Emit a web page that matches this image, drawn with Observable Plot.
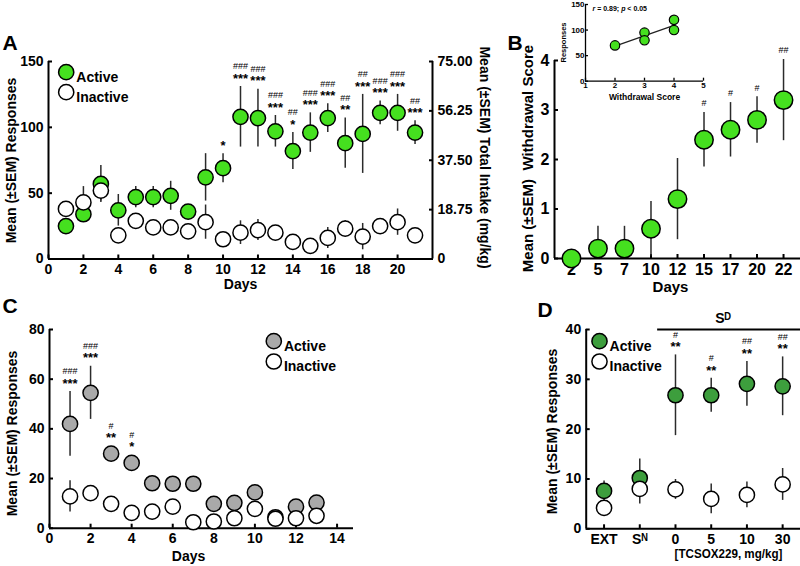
<!DOCTYPE html>
<html><head><meta charset="utf-8">
<script src="https://cdn.jsdelivr.net/npm/d3@7"></script>
<script src="https://cdn.jsdelivr.net/npm/@observablehq/plot@0.6"></script>
<style>
html,body{margin:0;padding:0;background:#fff;}
#fig{position:relative;width:800px;height:566px;overflow:hidden;background:#fff;}
#fig svg{position:absolute;left:0;top:0;}
</style></head><body><div id="fig"></div>
<script>
// ---------- Panel A: self-administration (days 1-21) ----------
const daysA = [1,2,3,4,5,6,7,8,9,10,11,12,13,14,15,16,17,18,19,20,21];
const activeA = [25,34,57,37,47,47,48,36,62,69,108,107,97,82,96,107,88,95,111,111,96];
const activeA_sem = [3,5,14,12,8,8,11,3,18,11,23,22,12,14,15,11,19,30,9,14,9];
const inactiveA = [38,43,52,18,29,24,24,21,28,15,20,22,20,13,10,16,23,17,25,28,18];
const inactiveA_sem = [3,12,8,4,4,4,4,3,13,3,9,8,4,3,3,8,6,10,5,10,3];
const hashA = ["","","","","","","","","","","###","###","###","##","###","###","##","##","###","###","##"];
const starA = ["","","","","","","","","","*","***","***","***","*","***","***","**","***","***","***","***"];
const ticksA = [0,50,100,150];
const ticksA_right = [0,37.5,75,112.5,150]; // response-scale positions of intake ticks 0, 18.75, 37.5, 56.25, 75
const ticksA_x = [0,2,4,6,8,10,12,14,16,18,20];

// ---------- Panel B: withdrawal score ----------
const daysB = ["2","5","7","10","12","15","17","20","22"];
const withdrawalB = [0,0.2,0.2,0.6,1.2,2.4,2.6,2.8,3.2];
const withdrawalB_sem = [0,0.45,0.45,0.55,0.82,0.55,0.55,0.47,0.82];
const hashB = ["","","","","","#","#","#","##"];
const ticksB = [0,1,2,3,4];

// ---------- Inset: responses vs withdrawal score ----------
const insetScore = [2,3,3,4,4];
const insetResp = [70,95,80,120,100];
const insetStat = "r = 0.89; p < 0.05";
const insetTicksY = [0,50,100,150];
const insetTicksX = [1,2,3,4,5];

// ---------- Panel C: extinction ----------
const daysC = [1,2,3,4,5,6,7,8,9,10,11,12,13];
const activeC = [42,54.5,30,26.3,18.1,17.9,17.9,9.8,10.2,14.4,4.4,8.7,10.3];
const activeC_sem = [13,10.7,1.5,1.5,1.5,1.5,1.5,1.5,1.5,1.5,1.5,1.5,1.5];
const inactiveC = [12.8,14.1,9.8,6.2,6.7,8.7,2.4,2.7,4,7.8,3.8,4,5];
const inactiveC_sem = [6.3,1.5,1.5,1.5,1.5,1.5,1.5,1.5,1.5,1.5,1.5,1.5,1.5];
const hashC = ["###","###","#","#","","","","","","","","",""];
const starC = ["***","***","**","*","","","","","","","","",""];
const ticksC = [0,20,40,60,80];
const ticksC_x = [0,2,4,6,8,10,12,14];

// ---------- Panel D: reinstatement ----------
const condD = ["EXT","S\u1D3A","0","5","10","30"];
const activeD = [7.6,10.2,26.8,26.8,29.1,28.6];
const activeD_sem = [2,3.8,8.1,3.4,4.5,5.9];
const inactiveD = [4.2,8.0,7.9,6.0,6.8,8.9];
const inactiveD_sem = [0.8,3.0,2.0,3.0,2.6,3.2];
const hashD = ["","","#","#","##","##"];
const starD = ["","","**","**","**","**"];
const ticksD = [0,10,20,30,40];
const sdLabel = "S\u1D30";

const series = ["Active","Inactive"];
const GREEN = "#45e01f", GRAY = "#a9a9a9", DKGREEN = "#3d9e3d";

// ---------- helpers ----------
const W = 800, H = 566;
const FONT = '"Liberation Sans", Arial, Helvetica, sans-serif';
const fig = document.getElementById("fig");
function base(m) {
  return {width: W, height: H, marginLeft: m.l, marginRight: W - m.r, marginTop: m.t, marginBottom: H - m.b,
    style: {fontFamily: FONT, fontWeight: "bold", fontSize: "13px", background: "transparent", overflow: "visible", color: "#000"}};
}
function idx(a) { return a.map((_, i) => i); }
function errs(xs, v, e) {
  return Plot.ruleX(idx(xs).filter(i => e[i] > 0), {x: i => xs[i], y1: i => Math.max(0, v[i] - e[i]), y2: i => v[i] + e[i], stroke: "#2b2b2b", strokeWidth: 1.5});
}
function dots(xs, v, fill, r) {
  return Plot.dot(idx(xs), {x: i => xs[i], y: i => v[i], r, fill, stroke: "#000", strokeWidth: 1.5});
}
function notes(xs, v, e, labels, ppu, r, dy, fontSize, fontWeight) {
  const anchor = v.map((d, i) => Math.max(d + e[i], d + r / ppu));
  return Plot.text(idx(xs).filter(i => labels[i]), {x: i => xs[i], y: i => anchor[i], text: i => labels[i],
    dy, fontSize, fontWeight, fill: "#000"});
}
function legend(dx, dy, fill, r, gap) {
  return [
    Plot.dot([0], {frameAnchor: "top-left", dx, dy, r, fill, stroke: "#000", strokeWidth: 1.5}),
    Plot.dot([0], {frameAnchor: "top-left", dx, dy: dy + gap, r, fill: "#fff", stroke: "#000", strokeWidth: 1.5}),
    Plot.text([series[0]], {text: d => d, frameAnchor: "top-left", dx: dx + r + 2.5, dy, textAnchor: "start", fontSize: 14, fontWeight: "bold"}),
    Plot.text([series[1]], {text: d => d, frameAnchor: "top-left", dx: dx + r + 2.5, dy: dy + gap, textAnchor: "start", fontSize: 14, fontWeight: "bold"})
  ];
}
const axisOpts = {tickSize: -4, tickPadding: 9, strokeWidth: 2, label: null, tickFormat: d => String(d)};

// ---------- Panel A ----------
{
  const m = {l: 48, r: 432, t: 61, b: 258.5};
  const ppu = (m.b - m.t) / 150, R = 7.6;
  fig.appendChild(Plot.plot({
    ...base(m),
    x: {domain: [0, 22]},
    y: {domain: [0, 150]},
    marks: [
      Plot.axisY({...axisOpts, ticks: ticksA, fontSize: 14}),
      Plot.axisY({...axisOpts, anchor: "right", ticks: ticksA_right, tickFormat: d => d === 0 ? "0" : (d / 2).toFixed(2), fontSize: 14}),
      Plot.axisX({...axisOpts, ticks: ticksA_x, fontSize: 14}),
      Plot.ruleX([0], {strokeWidth: 2}),
      Plot.ruleX([22], {strokeWidth: 2}),
      Plot.ruleY([0], {strokeWidth: 2}),
      errs(daysA, activeA, activeA_sem),
      errs(daysA, inactiveA, inactiveA_sem),
      dots(daysA, activeA, GREEN, R),
      dots(daysA, inactiveA, "#fff", R),
      notes(daysA, activeA, activeA_sem, starA, ppu, R, -8, 13, "bold"),
      notes(daysA, activeA, activeA_sem, hashA, ppu, R, -20, 9, "normal"),
      ...legend(17.7, 10.7, GREEN, R, 20)
    ]
  }));
}

// ---------- Panel B ----------
{
  const m = {l: 554, r: 800, t: 60, b: 258};
  const ppu = (m.b - m.t) / 4, R = 9.2;
  const xi = idx(daysB);
  fig.appendChild(Plot.plot({
    ...base(m),
    x: {domain: [-0.64, 8.64]},
    y: {domain: [0, 4]},
    marks: [
      Plot.axisY({...axisOpts, ticks: ticksB, fontSize: 16}),
      Plot.axisX({...axisOpts, ticks: xi, tickFormat: i => daysB[i], fontSize: 16}),
      Plot.ruleX([-0.64], {strokeWidth: 2}),
      Plot.ruleY([0], {strokeWidth: 2}),
      errs(xi, withdrawalB, withdrawalB_sem),
      dots(xi, withdrawalB, GREEN, R),
      notes(xi, withdrawalB, withdrawalB_sem, hashB, ppu, R, -9, 9, "normal")
    ]
  }));
}

// ---------- Inset ----------
{
  const m = {l: 585, r: 703, t: 4, b: 80.7};
  fig.appendChild(Plot.plot({
    ...base(m),
    x: {domain: [1, 5]},
    y: {domain: [0, 150]},
    marks: [
      Plot.axisY({tickSize: -3, tickPadding: 4, strokeWidth: 1.3, label: null, ticks: insetTicksY, tickFormat: d => String(d), fontSize: 8}),
      Plot.axisX({tickSize: -3, tickPadding: 4, strokeWidth: 1.3, label: null, ticks: insetTicksX, tickFormat: d => String(d), fontSize: 8}),
      Plot.ruleX([1], {strokeWidth: 1.3}),
      Plot.ruleY([0], {strokeWidth: 1.3}),
      Plot.linearRegressionY(idx(insetScore), {x: i => insetScore[i], y: i => insetResp[i], ci: 0, stroke: "#222", strokeWidth: 1.2}),
      Plot.dot(idx(insetScore), {x: i => insetScore[i], y: i => insetResp[i], r: 4.7, fill: GREEN, stroke: "#000", strokeWidth: 1.2})
    ]
  }));
}

// ---------- Panel C ----------
{
  const m = {l: 49, r: 353, t: 329, b: 527.7};
  const ppu = (m.b - m.t) / 80, R = 7.6;
  fig.appendChild(Plot.plot({
    ...base(m),
    x: {domain: [0, 14.8]},
    y: {domain: [0, 80]},
    marks: [
      Plot.axisY({...axisOpts, ticks: ticksC, fontSize: 14}),
      Plot.axisX({...axisOpts, ticks: ticksC_x, fontSize: 14}),
      Plot.ruleX([0], {strokeWidth: 2}),
      Plot.ruleY([0], {strokeWidth: 2}),
      errs(daysC, activeC, activeC_sem),
      errs(daysC, inactiveC, inactiveC_sem),
      dots(daysC, activeC, GRAY, R),
      dots(daysC, inactiveC, "#fff", R),
      notes(daysC, activeC, activeC_sem, starC, ppu, R, -8, 13, "bold"),
      notes(daysC, activeC, activeC_sem, hashC, ppu, R, -20, 9, "normal"),
      ...legend(224.3, 11.7, GRAY, R, 20.3)
    ]
  }));
}

// ---------- Panel D ----------
{
  const m = {l: 585.7, r: 800, t: 329, b: 528.3};
  const ppu = (m.b - m.t) / 40, R = 7.6;
  const xi = idx(condD);
  fig.appendChild(Plot.plot({
    ...base(m),
    x: {domain: [-0.5, 5.5]},
    y: {domain: [0, 40]},
    marks: [
      Plot.axisY({...axisOpts, ticks: ticksD, fontSize: 14}),
      Plot.axisX({...axisOpts, ticks: xi, tickFormat: i => condD[i], fontSize: 14}),
      Plot.ruleX([-0.5], {strokeWidth: 2}),
      Plot.ruleY([0], {strokeWidth: 2}),
      Plot.ruleY([40], {x1: 1.5, x2: 5.5, strokeWidth: 2}),
      Plot.text([sdLabel], {text: d => d, x: 3.5, y: 40, dx: -6, dy: -11, fontSize: 14, fontWeight: "bold"}),
      errs(xi, activeD, activeD_sem),
      errs(xi, inactiveD, inactiveD_sem),
      dots(xi, activeD, DKGREEN, R),
      dots(xi, inactiveD, "#fff", R),
      notes(xi, activeD, activeD_sem, starD, ppu, R, -8, 13, "bold"),
      notes(xi, activeD, activeD_sem, hashD, ppu, R, -20, 9, "normal"),
      ...legend(13.3, 11.7, DKGREEN, R, 20.3)
    ]
  }));
}

// ---------- Titles, panel letters, axis labels (page-pixel overlay) ----------
const letters = ["A","B","C","D"];
const letterX = [2,507,2,537], letterY = [43,43,306,310];
const titleText = ["Mean (\u00b1SEM) Responses","Mean (\u00b1SEM) Total Intake (mg/kg)","Days",
  "Mean (\u00b1SEM)\u00a0 Withdrawal Score","Days",
  "Responses","Withdrawal Score",
  "Mean (\u00b1SEM) Responses","Days",
  "Mean (\u00b1SEM) Responses"];
const titleX = [11,484,240, 528,670, 563,644, 12,188, 552];
const titleY = [160,157,284, 158,287, 42,97, 433,556, 431];
const titleSize = [14,14,14, 15,15, 7.5,8.5, 14,14, 14];
const titleRot = [-90,90,0, -90,0, -90,0, -90,0, -90];
const dTitle = "[TCSOX229, mg/kg]";
{
  const plot = Plot.plot({
    width: W, height: H, margin: 0,
    x: {domain: [0, W], range: [0, W]},
    y: {domain: [0, H], range: [0, H]},
    axis: null,
    style: {fontFamily: FONT, fontWeight: "bold", background: "transparent", overflow: "visible", color: "#000"},
    marks: [
      Plot.text(idx(letters), {x: i => letterX[i], y: i => letterY[i], text: i => letters[i], fontSize: 21, textAnchor: "start", fontWeight: "bold", fill: "#000"}),
      Plot.text(idx(titleText), {x: i => titleX[i], y: i => titleY[i], text: i => titleText[i],
        fontSize: i => titleSize[i], rotate: i => titleRot[i], textAnchor: "middle", fontWeight: "bold", fill: "#000"}),
      Plot.text([dTitle], {x: 728, y: 553, text: d => d, fontSize: 13, fontWeight: "bold", fill: "#000"}),
      Plot.text([insetStat], {x: 592, y: 8, text: d => d, fontSize: 7, textAnchor: "start", fontWeight: "bold", fill: "#000"})
    ]
  });
  d3.select(plot).selectAll("text").filter(function() { return this.textContent === dTitle; })
    .attr("textLength", 108).attr("lengthAdjust", "spacingAndGlyphs");
  d3.select(plot).selectAll("text").filter(function() { return this.textContent === insetStat; })
    .html('<tspan font-style="italic">r</tspan> = 0.89; <tspan font-style="italic">p</tspan> &lt; 0.05');
  fig.appendChild(plot);
}
</script></body></html>
